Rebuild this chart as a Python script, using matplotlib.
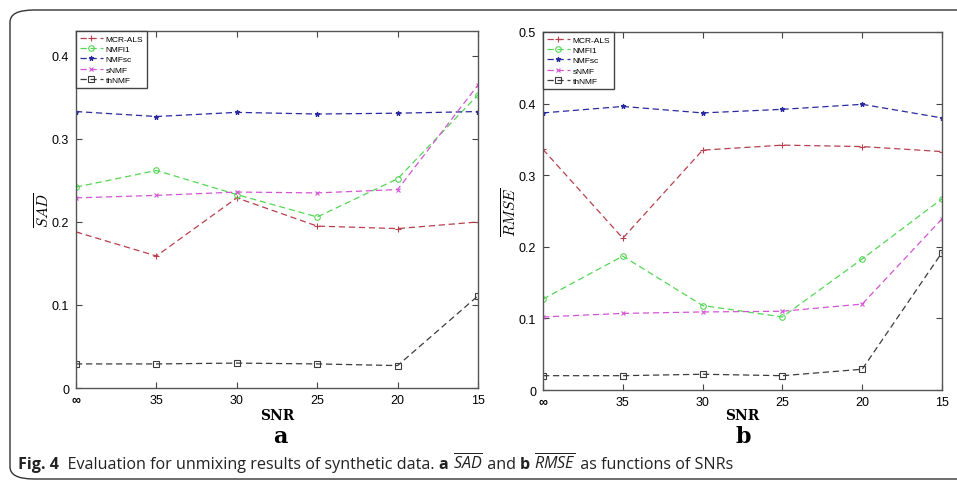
import matplotlib
matplotlib.use("Agg")
import matplotlib.pyplot as plt
from matplotlib.patches import FancyBboxPatch

plt.rcParams['font.family'] = ['Liberation Sans', 'DejaVu Sans']
plt.rcParams['mathtext.fontset'] = 'custom'
plt.rcParams['mathtext.it'] = 'Open Sans:italic'
plt.rcParams['mathtext.rm'] = 'Open Sans'
plt.rcParams['mathtext.bf'] = 'Open Sans:bold'

snr_labels = ['∞', '35', '30', '25', '20', '15']
methods = ['MCR-ALS', 'NMFl1', 'NMFsc', 'sNMF', 'thNMF']

sad_mcr = [0.188, 0.159, 0.229, 0.195, 0.192, 0.200]
sad_nmfl1 = [0.242, 0.262, 0.233, 0.206, 0.252, 0.353]
sad_nmfsc = [0.333, 0.327, 0.332, 0.330, 0.331, 0.333]
sad_snmf = [0.229, 0.232, 0.236, 0.235, 0.239, 0.365]
sad_thnmf = [0.029, 0.029, 0.030, 0.029, 0.027, 0.111]

rmse_mcr = [0.336, 0.212, 0.335, 0.342, 0.340, 0.333]
rmse_nmfl1 = [0.127, 0.187, 0.118, 0.102, 0.183, 0.267]
rmse_nmfsc = [0.387, 0.396, 0.387, 0.392, 0.399, 0.380]
rmse_snmf = [0.102, 0.107, 0.109, 0.110, 0.120, 0.239]
rmse_thnmf = [0.020, 0.020, 0.022, 0.020, 0.029, 0.192]

sad_ticks = [0, 0.1, 0.2, 0.3, 0.4]
rmse_ticks = [0, 0.1, 0.2, 0.3, 0.4, 0.5]

colors = ['#b8404e', '#55d655', '#2a2aa0', '#d455d4', '#3c3c3c']
markers = ['+', 'o', '*', 'x', 's']
msizes = [5, 4, 3.5, 3, 4]

W, H = 957, 485
fig = plt.figure(figsize=(W / 100, H / 100), dpi=100)

# outer rounded frame
frame = FancyBboxPatch((10 / W, 5 / H), 990 / W, 469 / H,
                       boxstyle="round,pad=0,rounding_size=0.025",
                       transform=fig.transFigure, fill=False,
                       edgecolor='#333333', linewidth=1.0, clip_on=False)
fig.add_artist(frame)

def make_panel(rect, series, ylim, yticks, ylabel, letter, letter_x):
    ax = fig.add_axes(rect)
    x = list(range(len(snr_labels)))
    for vals, name, c, m, ms in zip(series, methods, colors, markers, msizes):
        mfc = 'none' if m in ('o', 's') else c
        ax.plot(x, vals, linestyle=(0, (5, 3)), color=c, linewidth=0.9,
                marker=m, markersize=ms, markerfacecolor=mfc,
                markeredgecolor=c, markeredgewidth=0.8, label=name)
    ax.set_xlim(0, len(snr_labels) - 1)
    ax.set_ylim(*ylim)
    ax.set_xticks(x)
    ax.set_xticklabels(snr_labels)
    ax.get_xticklabels()[0].set_fontsize(14)
    ax.get_xticklabels()[0].set_fontweight('bold')
    ax.set_yticks(yticks)
    ax.set_yticklabels(['0' if t == 0 else f'{t:g}' for t in yticks])
    ax.tick_params(direction='in', top=True, right=True, length=4,
                   width=0.8, color='#444444', labelsize=9, pad=5)
    ax.tick_params(axis='x', pad=4)
    for s in ax.spines.values():
        s.set_color('#555555')
        s.set_linewidth(1.0)
    leg = ax.legend(loc='upper left', borderaxespad=0, fontsize=6,
                    handlelength=2.8, handletextpad=0.3, labelspacing=0.3,
                    borderpad=0.45, fancybox=False, framealpha=1)
    leg.get_frame().set_edgecolor('#444444')
    leg.get_frame().set_linewidth(1.0)
    ax.set_xlabel('SNR', family='DejaVu Serif', fontsize=10, fontweight='bold')
    ax.xaxis.set_label_coords(0.5, -(416 - (1 - rect[1]) * H) / (rect[3] * H))
    ax.set_ylabel(ylabel, fontsize=11, math_fontfamily='cm')
    ax.yaxis.set_label_coords(-33 / (rect[2] * W), 0.5)
    ax.yaxis.label.set_verticalalignment('center')
    ax.xaxis.label.set_verticalalignment('center')
    fig.text(letter_x, 1 - 437 / H, letter, family='DejaVu Serif',
             fontsize=16, fontweight='bold', ha='center', va='center')
    return ax

ax1 = make_panel([76 / W, 1 - 389 / H, 402 / W, 357 / H],
                 [sad_mcr, sad_nmfl1, sad_nmfsc, sad_snmf, sad_thnmf],
                 (0, 0.43), sad_ticks, r'$\overline{SAD}$', 'a', 280 / W)
ax2 = make_panel([543 / W, 1 - 391 / H, 399 / W, 358 / H],
                 [rmse_mcr, rmse_nmfl1, rmse_nmfsc, rmse_snmf, rmse_thnmf],
                 (0, 0.5), rmse_ticks, r'$\overline{RMSE}$', 'b', 743 / W)

# caption built piece by piece
renderer = fig.canvas.get_renderer()
pieces = [
    ('Fig. 4', 'bold'),
    ('  Evaluation for unmixing results of synthetic data. ', 'normal'),
    ('a ', 'bold'),
    (r'$\overline{SAD}$', 'normal'),
    (' and ', 'normal'),
    ('b ', 'bold'),
    (r'$\overline{RMSE}$', 'normal'),
    (' as functions of SNRs', 'normal'),
]
xpos = 18
ycap = 1 - 469 / H
for txt, wgt in pieces:
    t = fig.text(xpos / W, ycap, txt, family=['Open Sans', 'DejaVu Sans'],
                 fontsize=11.6, fontweight=wgt,
                 ha='left', va='baseline', color='#222222')
    bb = t.get_window_extent(renderer)
    xpos += bb.width

fig.savefig('out.png', dpi=100)
